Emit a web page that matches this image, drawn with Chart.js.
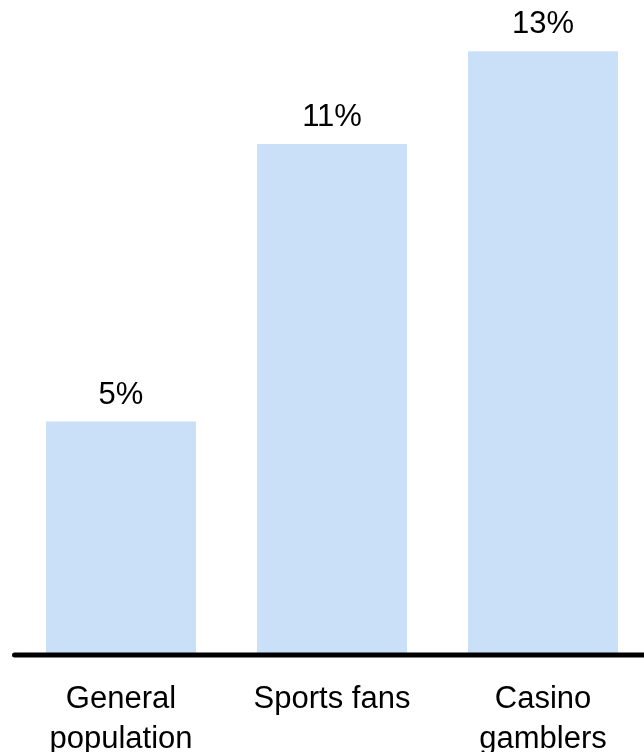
<!DOCTYPE html>
<html>
<head>
<meta charset="utf-8">
<script src="https://cdn.jsdelivr.net/npm/chart.js@4/dist/chart.umd.min.js"></script>
<style>
  html, body { margin: 0; padding: 0; background: #fff; overflow: hidden; }
  canvas { display: block; }
</style>
</head>
<body>
<canvas id="grafica" width="650" height="752"></canvas>
<script>
// Datos de la gráfica
const categorias = [['General', 'population'], ['Sports fans'], ['Casino', 'gamblers']];
const porcentajes = [5, 11, 13];
const etiquetasValor = ['5%', '11%', '13%'];

const fuente = "'Liberation Sans', Arial, sans-serif";

// Línea base gruesa con extremo redondeado
const lineaBase = {
  id: 'lineaBase',
  afterDatasetsDraw(chart) {
    const {ctx, chartArea} = chart;
    const y = chart.scales.y.getPixelForValue(0) + 2;
    ctx.save();
    ctx.strokeStyle = '#000';
    ctx.lineWidth = 5;
    ctx.lineCap = 'round';
    ctx.beginPath();
    ctx.moveTo(chartArea.left - 1, y);
    ctx.lineTo(chartArea.right + 10, y);
    ctx.stroke();
    ctx.restore();
  }
};

// Etiquetas de valor encima de cada barra y nombres de categoría debajo
const etiquetasBarras = {
  id: 'etiquetasBarras',
  afterDatasetsDraw(chart) {
    const {ctx} = chart;
    const meta = chart.getDatasetMeta(0);
    const escalaX = chart.scales.x;
    const y0 = chart.scales.y.getPixelForValue(0);
    ctx.save();
    ctx.fillStyle = '#000';
    ctx.font = '31px ' + fuente;
    ctx.textAlign = 'center';
    ctx.textBaseline = 'alphabetic';
    meta.data.forEach((bar, i) => {
      ctx.fillText(etiquetasValor[i], bar.x, bar.y - 18);
    });
    categorias.forEach((lineas, i) => {
      const x = escalaX.getPixelForValue(i);
      lineas.forEach((txt, j) => {
        ctx.fillText(txt, x, y0 + 55 + j * 40);
      });
    });
    ctx.restore();
  }
};

new Chart(document.getElementById('grafica').getContext('2d'), {
  type: 'bar',
  data: {
    labels: categorias,
    datasets: [{
      data: porcentajes,
      backgroundColor: '#c9e0f8',
      borderWidth: 0,
      barPercentage: 0.711,
      categoryPercentage: 1
    }]
  },
  options: {
    responsive: false,
    animation: false,
    layout: {padding: {left: 15.5, right: 1.5, top: 0, bottom: 91}},
    plugins: {
      legend: {display: false},
      tooltip: {enabled: false}
    },
    scales: {
      x: {
        grid: {display: false},
        border: {display: false},
        ticks: {display: false}
      },
      y: {
        display: false,
        min: 0,
        max: 14.11
      }
    }
  },
  plugins: [lineaBase, etiquetasBarras]
});
</script>
</body>
</html>
